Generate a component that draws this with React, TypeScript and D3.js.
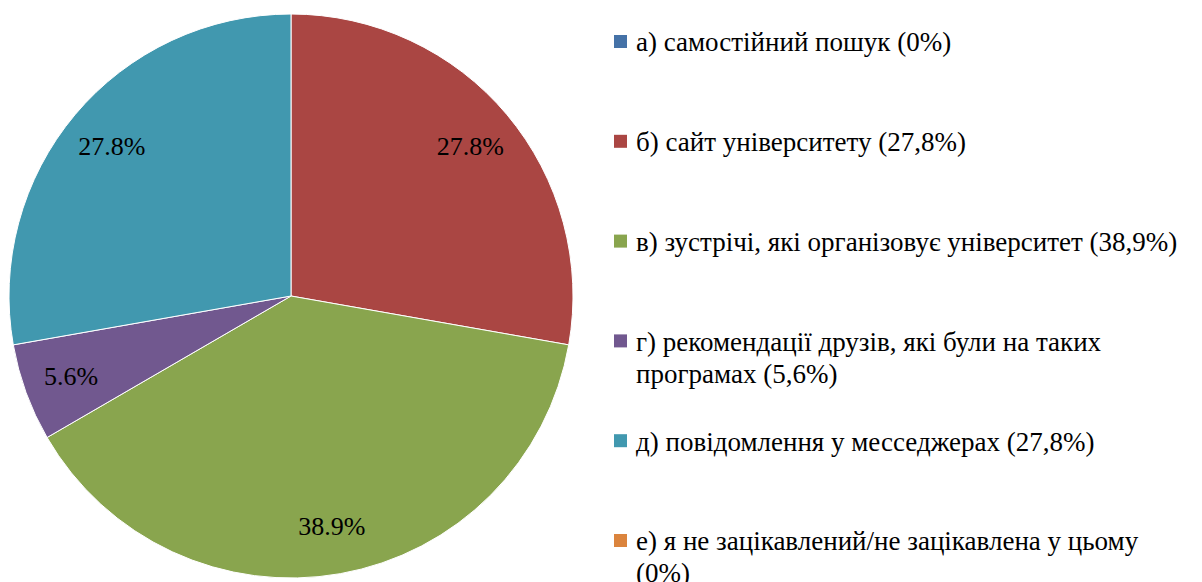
import { arc, pie, scalePoint } from "d3";

const width = 1202;
const height = 582;
const margin = 8; // body margin of the page

// answer categories (legend text, "\n" = line break as in the original)
const categories = [
  "а) самостійний пошук (0%)",
  "б) сайт університету (27,8%)",
  "в) зустрічі, які організовує університет (38,9%)",
  "г) рекомендації друзів, які були на таких\nпрограмах (5,6%)",
  "д) повідомлення у месседжерах (27,8%)",
  "е) я не зацікавлений/не зацікавлена у цьому\n(0%)",
];
const values = [0, 27.8, 38.9, 5.6, 27.8, 0];
const sliceLabels = ["0.0%", "27.8%", "38.9%", "5.6%", "27.8%", "0.0%"];
const colors = ["#4572A7", "#AA4643", "#89A54E", "#71588F", "#4198AF", "#DB843D"];

const cx = 291;
const cy = 296;
const radius = 282;

export default function App() {
  const slices = pie<number>().sort(null).value((d) => d)(values);
  const sliceArc = arc<any>().innerRadius(0).outerRadius(radius);
  const labelArc = arc<any>().innerRadius(234).outerRadius(234);

  const legendY = scalePoint<string>()
    .domain(categories)
    .range([42, 541]);

  return (
    <svg width={width - margin} height={height - margin} className="pie-chart">
      <style>{`.pie-chart text { font-family: 'Liberation Serif', serif; }`}</style>
      <g transform={`translate(${-margin},${-margin})`}>
        <g transform={`translate(${cx},${cy})`}>
          {slices.map((s, i) =>
            s.value > 0 ? (
              <path
                key={i}
                d={sliceArc(s) || ""}
                fill={colors[i]}
                stroke="#fff"
                strokeWidth={1}
              />
            ) : null
          )}
          {slices.map((s, i) => {
            if (s.value <= 0) return null;
            const [x, y] = labelArc.centroid(s);
            return (
              <text
                key={i}
                x={x}
                y={y}
                dy="0.35em"
                textAnchor="middle"
                fontSize={26}
              >
                {sliceLabels[i]}
              </text>
            );
          })}
        </g>
        {categories.map((c, i) => {
          const y = legendY(c) ?? 0;
          const lines = c.split("\n");
          return (
            <g key={c}>
              <rect x={614} y={y - 7} width={13} height={13} fill={colors[i]} />
              {lines.map((l, j) => (
                <text key={j} x={636} y={y + j * 32} dy="0.35em" fontSize={27}>
                  {l}
                </text>
              ))}
            </g>
          );
        })}
      </g>
    </svg>
  );
}
